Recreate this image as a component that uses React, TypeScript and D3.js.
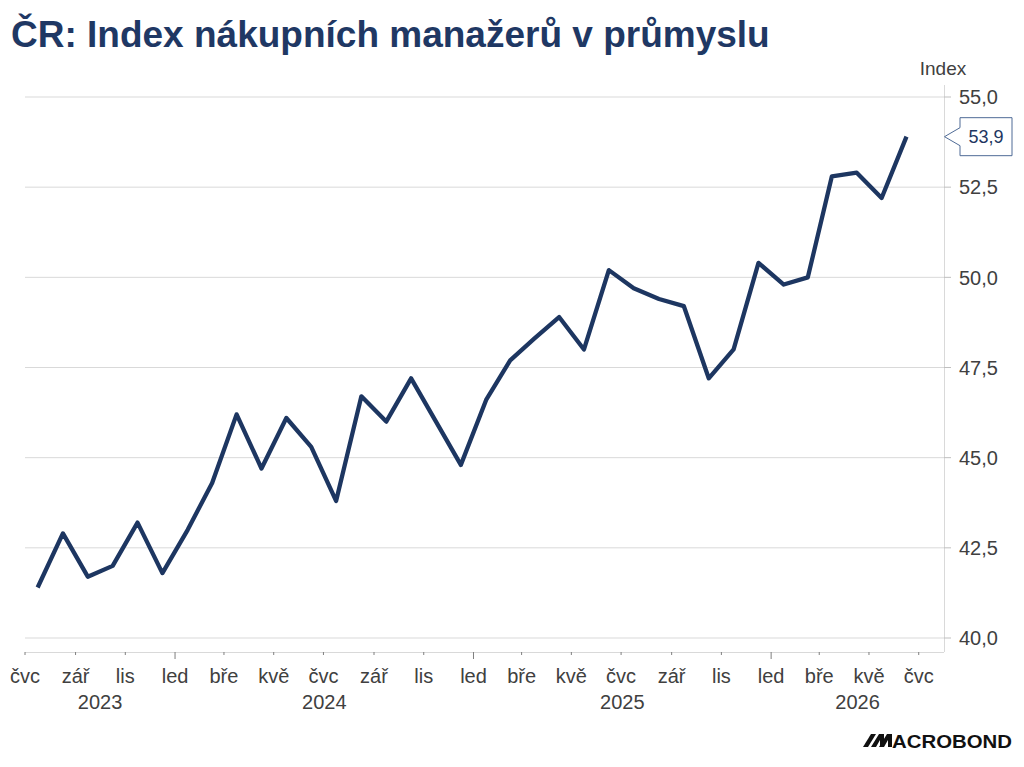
import { useEffect, useRef } from "react";
import * as d3 from "d3";

// Czech manufacturing PMI, monthly, starting July 2023
const firstMonth = "2023-07";
const pmi = [
  41.4, 42.9, 41.7, 42.0, 43.2, 41.8, 43.0, 44.3, 46.2, 44.7, 46.1, 45.3,
  43.8, 46.7, 46.0, 47.2, 46.0, 44.8, 46.6, 47.7, 48.3, 48.9, 48.0, 50.2,
  49.7, 49.4, 49.2, 47.2, 48.0, 50.4, 49.8, 50.0, 52.8, 52.9, 52.2, 53.9,
];
const monthNames = [
  "led", "úno", "bře", "dub", "kvě", "čvn",
  "čvc", "srp", "zář", "říj", "lis", "pro",
];
const years = [2023, 2024, 2025, 2026];
const yTicks = [40, 42.5, 45, 47.5, 50, 52.5, 55];

const title = "ČR: Index nákupních manažerů v průmyslu";
const unitLabel = "Index";

const W = 1024;
const H = 767;
const NAVY = "#1d3661";
const FONT = "'Liberation Sans', Arial, sans-serif";

const cz = d3.formatLocale({
  decimal: ",",
  thousands: " ",
  grouping: [3],
  currency: ["", " Kč"],
});
const fmt = cz.format(".1f");

export default function App() {
  const svgRef = useRef<SVGSVGElement>(null);

  useEffect(() => {
    const el = svgRef.current;
    if (!el) return;
    const svg = d3.select(el);
    svg.selectAll("*").remove();

    const parse = d3.timeParse("%Y-%m");
    const start = parse(firstMonth) as Date;
    const pts = pmi.map((v, i) => ({
      d0: d3.timeMonth.offset(start, i),
      d1: d3.timeMonth.offset(start, i + 1),
      v,
    }));
    const end = d3.timeMonth.offset(start, pmi.length + 1);

    const left = 25;
    const right = 944;
    const top = 97;
    const bottom = 638;
    const axisY = 652;

    const xs = d3.scaleTime().domain([start, end]).range([left, right]);
    const ys = d3.scaleLinear().domain([40, 55]).range([bottom, top]);
    const xMid = (p: { d0: Date; d1: Date }) => (xs(p.d0) + xs(p.d1)) / 2;

    // Title
    svg
      .append("text")
      .attr("x", 11)
      .attr("y", 47)
      .attr("fill", "#1f3864")
      .style("font-family", FONT)
      .style("font-weight", "bold")
      .style("font-size", "37px")
      .text(title);

    // Grid
    svg
      .selectAll(".gy")
      .data(yTicks)
      .enter()
      .append("line")
      .attr("x1", left)
      .attr("x2", right)
      .attr("y1", (d) => ys(d))
      .attr("y2", (d) => ys(d))
      .attr("stroke", "#d9d9d9")
      .attr("stroke-width", 1);

    // Right axis
    svg
      .append("line")
      .attr("x1", right + 0.5)
      .attr("x2", right + 0.5)
      .attr("y1", 85)
      .attr("y2", axisY)
      .attr("stroke", "#d9d9d9");
    svg
      .selectAll(".yt")
      .data(yTicks)
      .enter()
      .append("line")
      .attr("x1", right)
      .attr("x2", right + 7)
      .attr("y1", (d) => ys(d))
      .attr("y2", (d) => ys(d))
      .attr("stroke", "#bfbfbf");
    svg
      .selectAll(".yl")
      .data(yTicks)
      .enter()
      .append("text")
      .attr("x", 959)
      .attr("y", (d) => ys(d))
      .attr("dy", "0.36em")
      .attr("fill", "#404040")
      .style("font-family", FONT)
      .style("font-size", "20px")
      .text((d) => fmt(d));
    svg
      .append("text")
      .attr("x", 943)
      .attr("y", 75)
      .attr("text-anchor", "middle")
      .attr("fill", "#404040")
      .style("font-family", FONT)
      .style("font-size", "19px")
      .text(unitLabel);

    // Bottom axis
    svg
      .append("line")
      .attr("x1", left)
      .attr("x2", right)
      .attr("y1", axisY + 0.5)
      .attr("y2", axisY + 0.5)
      .attr("stroke", "#d9d9d9");
    const xTicks = d3.timeMonth.every(2)!.range(start, end);
    svg
      .selectAll(".xt")
      .data(xTicks)
      .enter()
      .append("line")
      .attr("x1", (d) => xs(d))
      .attr("x2", (d) => xs(d))
      .attr("y1", axisY)
      .attr("y2", (d) => (d.getMonth() === 0 ? axisY + 7 : axisY + 3))
      .attr("stroke", "#7f7f7f");
    svg
      .selectAll(".xl")
      .data(xTicks)
      .enter()
      .append("text")
      .attr("x", (d) => xs(d))
      .attr("y", 683)
      .attr("text-anchor", "middle")
      .attr("fill", "#404040")
      .style("font-family", FONT)
      .style("font-size", "20px")
      .text((d) => monthNames[d.getMonth()]);
    svg
      .selectAll(".yr")
      .data(years)
      .enter()
      .append("text")
      .attr("x", (yr) => {
        const a = Math.max(xs(new Date(yr, 0, 1)), left);
        const b = Math.min(xs(new Date(yr + 1, 0, 1)), right);
        return (a + b) / 2;
      })
      .attr("y", 709)
      .attr("text-anchor", "middle")
      .attr("fill", "#404040")
      .style("font-family", FONT)
      .style("font-size", "20px")
      .text((yr) => String(yr));

    // Series
    const line = d3
      .line<(typeof pts)[number]>()
      .x((d) => xMid(d))
      .y((d) => ys(d.v));
    svg
      .append("path")
      .datum(pts)
      .attr("fill", "none")
      .attr("stroke", NAVY)
      .attr("stroke-width", 4.3)
      .attr("stroke-linejoin", "round")
      .attr("d", line);

    // Last value callout
    const last = pts[pts.length - 1];
    const ly = ys(last.v);
    const bx = 960;
    const bw = 52;
    const bh = 38;
    const callout = d3.path();
    callout.moveTo(right + 0.5, ly);
    callout.lineTo(bx, ly - 9);
    callout.lineTo(bx, ly - bh / 2);
    callout.lineTo(bx + bw, ly - bh / 2);
    callout.lineTo(bx + bw, ly + bh / 2);
    callout.lineTo(bx, ly + bh / 2);
    callout.lineTo(bx, ly + 9);
    callout.closePath();
    svg
      .append("path")
      .attr("d", callout.toString())
      .attr("fill", "#fff")
      .attr("stroke", "#4f6b96")
      .attr("stroke-width", 1);
    svg
      .append("text")
      .attr("x", bx + bw / 2)
      .attr("y", ly)
      .attr("dy", "0.36em")
      .attr("text-anchor", "middle")
      .attr("fill", NAVY)
      .style("font-family", FONT)
      .style("font-size", "18px")
      .text(fmt(last.v));

    // Macrobond mark
    const logo = svg.append("g").attr("transform", "translate(863,734)");
    const slant = [0, 8, 16];
    logo
      .selectAll("path")
      .data(slant)
      .enter()
      .append("path")
      .attr("d", (o, i) =>
        i === 0
          ? `M${o},13 L${o + 8},0 L${o + 13},0 L${o + 5},13 Z`
          : `M${o},13 L${o + 8},0 L${o + 13},0 L${o + 13},13 L${o + 9},13 L${o + 9},6 L${o + 5},13 Z`,
      )
      .attr("fill", "#111");
    logo
      .append("text")
      .attr("x", 29)
      .attr("y", 13.5)
      .attr("fill", "#111")
      .attr("textLength", 120)
      .attr("lengthAdjust", "spacingAndGlyphs")
      .style("font-family", FONT)
      .style("font-weight", "bold")
      .style("font-size", "18.5px")
      .text("ACROBOND");
  }, []);

  return (
    <svg
      ref={svgRef}
      width={W}
      height={H}
      viewBox={`0 0 ${W} ${H}`}
      style={{ display: "block", position: "absolute", left: 0, top: 0, background: "#fff" }}
    />
  );
}
